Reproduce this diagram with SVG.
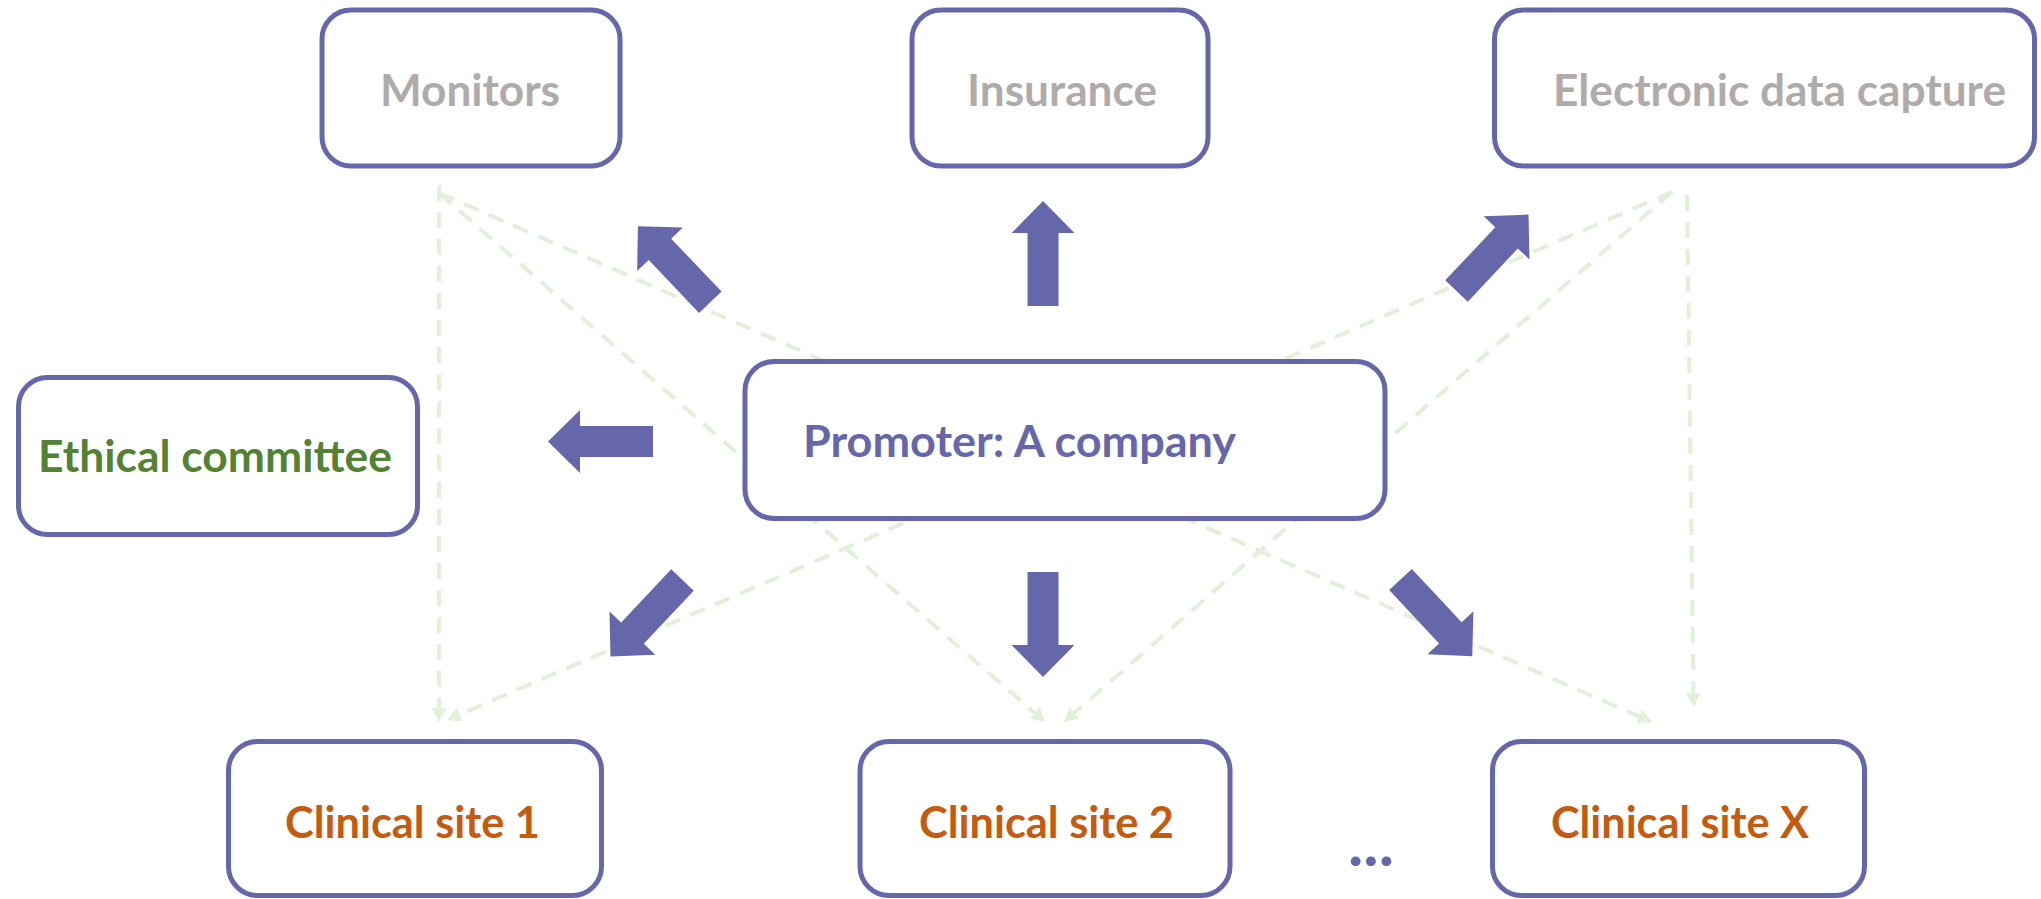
<svg xmlns="http://www.w3.org/2000/svg" xmlns:xlink="http://www.w3.org/1999/xlink" width="2041" height="899" viewBox="0 0 2041 899">
<style>
.box{fill:#fff;stroke:#6667AB;stroke-width:5}
.t{font-family:Lato,"Open Sans","Liberation Sans",sans-serif;font-weight:700;font-size:43px}
.gray{fill:#AFABAB}
.pur{fill:#6667AB}
.grn{fill:#548235}
.org{fill:#C55A11}
.dash{fill:none;stroke:#E2F0D9;stroke-width:4;stroke-dasharray:16 11;marker-end:url(#ah)}
.blk{fill:#6667AB}
</style>
<defs>
<marker id="ah" markerUnits="userSpaceOnUse" markerWidth="16" markerHeight="16" refX="8" refY="7.5" orient="auto">
<path d="M0,0 L14,7.5 L0,15 Z" fill="#E2F0D9"/>
</marker>
<path id="arr" d="M0,-15.5 H73 V-31.5 L105,0 L73,31.5 V15.5 H0 Z"/>
</defs>
<rect width="2041" height="899" fill="#fff"/>
<g id="connectors">
<line class="dash" x1="439" y1="185" x2="439" y2="716"/>
<line class="dash" x1="439" y1="193" x2="1040.5" y2="718.1"/>
<line class="dash" x1="439" y1="193" x2="1646.5" y2="719.6"/>
<line class="dash" x1="1687" y1="195" x2="1693.6" y2="701"/>
<line class="dash" x1="1672" y1="192" x2="452.5" y2="717.6"/>
<line class="dash" x1="1672" y1="192" x2="1068.5" y2="718.1"/>
<use xlink:href="#arr" class="blk" transform="translate(653,441.5) rotate(180)"/>
<use xlink:href="#arr" class="blk" transform="translate(1043,306) rotate(-90)"/>
<use xlink:href="#arr" class="blk" transform="translate(1043,572) rotate(90)"/>
<use xlink:href="#arr" class="blk" transform="translate(710.3,302.2) rotate(-133.6)"/>
<use xlink:href="#arr" class="blk" transform="translate(1456.5,291) rotate(-46.7)"/>
<use xlink:href="#arr" class="blk" transform="translate(682.5,580) rotate(133.3)"/>
<use xlink:href="#arr" class="blk" transform="translate(1400.5,579.5) rotate(46.9)"/>
</g>
<g id="monitors">
<rect class="box" x="322" y="10" width="298" height="156" rx="29"/>
<text class="t gray" x="380" y="106" textLength="180" lengthAdjust="spacingAndGlyphs">Monitors</text>
</g>
<g id="insurance">
<rect class="box" x="912" y="10" width="296" height="156" rx="29"/>
<text class="t gray" x="967" y="106" textLength="190" lengthAdjust="spacingAndGlyphs">Insurance</text>
</g>
<g id="edc">
<rect class="box" x="1494.5" y="10" width="540" height="156" rx="29"/>
<text class="t gray" x="1553" y="106" textLength="453" lengthAdjust="spacingAndGlyphs">Electronic data capture</text>
</g>
<g id="ethical">
<rect class="box" x="18.5" y="377.5" width="399" height="157" rx="29"/>
<text class="t grn" x="38" y="472" textLength="354" lengthAdjust="spacingAndGlyphs">Ethical committee</text>
</g>
<g id="promoter">
<rect class="box" x="745" y="361.5" width="640" height="157" rx="29"/>
<text class="t pur" x="803" y="457" textLength="433" lengthAdjust="spacingAndGlyphs">Promoter: A company</text>
</g>
<g id="site1">
<rect class="box" x="228.5" y="741.5" width="373" height="154" rx="29"/>
<text class="t org" x="285" y="838" textLength="255" lengthAdjust="spacingAndGlyphs">Clinical site 1</text>
</g>
<g id="site2">
<rect class="box" x="860" y="741.5" width="370" height="154" rx="29"/>
<text class="t org" x="919" y="838" textLength="255" lengthAdjust="spacingAndGlyphs">Clinical site 2</text>
</g>
<g id="siteX">
<rect class="box" x="1492.5" y="741.5" width="372" height="154" rx="29"/>
<text class="t org" x="1551" y="838" textLength="258" lengthAdjust="spacingAndGlyphs">Clinical site X</text>
</g>
<g id="ellipsis">
<text class="t pur" x="1348" y="866" style="font-size:64px" textLength="46" lengthAdjust="spacingAndGlyphs">...</text>
</g>
</svg>
